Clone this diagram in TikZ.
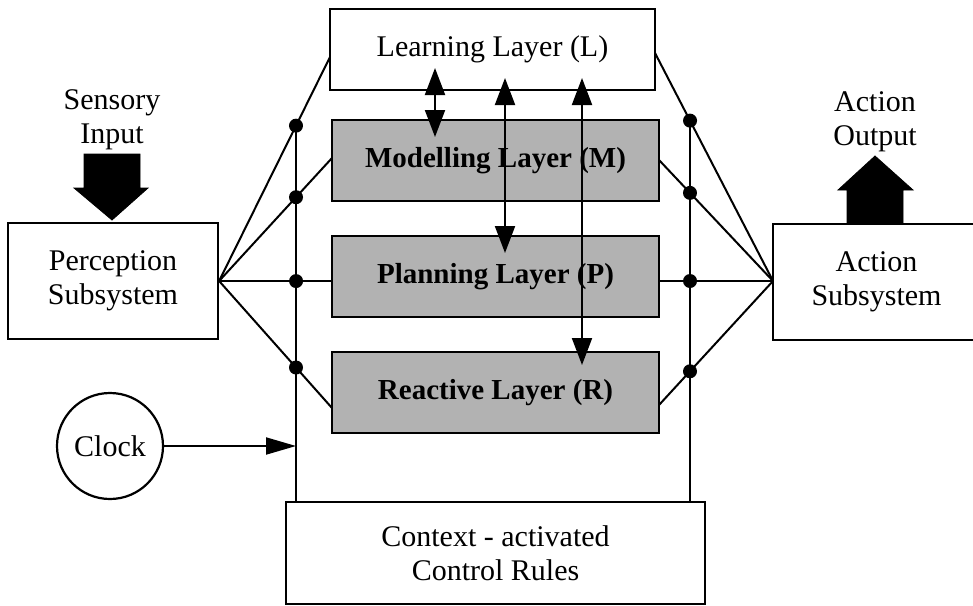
\documentclass[tikz,border=0pt]{standalone}
\usepackage{fontspec}
\setmainfont{Liberation Serif}
\usetikzlibrary{arrows.meta}
\begin{document}
\begin{tikzpicture}[x=1pt,y=-1pt,
  every node/.style={font=\fontsize{30}{34}\selectfont, align=center, inner sep=0pt},
  box/.style={draw, line width=2.2pt, fill=white},
  layer/.style={draw, line width=2.4pt, fill=black!30, font=\fontsize{29}{34}\selectfont\bfseries},
  conn/.style={line width=2pt},
  dot/.style={circle, fill=black, minimum size=14pt, inner sep=0pt},
  dbl/.style={line width=2pt, {Triangle[length=27pt,width=20pt]}-{Triangle[length=27pt,width=20pt]}},
  sgl/.style={line width=2pt, -{Triangle[length=30pt,width=17pt]}},
  blockarrow/.style={fill=black, draw=black, line width=0.8pt}
]
\useasboundingbox (0,0) rectangle (973,605);
\clip (0,0) rectangle (973,605);

% boxes
\node[box, minimum width=325pt, minimum height=81pt] (L) at (492.5,49.5) {Learning Layer (L)};
\node[layer, minimum width=327pt, minimum height=81pt] (M) at (495.5,160.5) {Modelling Layer (M)};
\node[layer, minimum width=327pt, minimum height=81pt] (P) at (495.5,276.5) {Planning Layer (P)};
\node[layer, minimum width=327pt, minimum height=81pt] (R) at (495.5,392.5) {Reactive Layer (R)};
\node[box, minimum width=210pt, minimum height=116pt] (perc) at (113,281) {Perception\\Subsystem};
\node[box, minimum width=207pt, minimum height=116pt, text width=207pt] (act) at (876.5,282) {Action\\Subsystem};
\node[box, circle, minimum size=106pt] (clock) at (110,446) {Clock};

% coordinates on box edges
\coordinate (lw) at (330,57);
\coordinate (mw) at (332,158);
\coordinate (rw) at (332,408);
\coordinate (le) at (655,53);
\coordinate (me) at (659,160);
\coordinate (re) at (659,405);
\coordinate (pw) at (332,281);
\coordinate (pe) at (659,281);
\coordinate (ain) at (773,281);

% connectors
\draw[conn] (perc.east) -- (lw);
\draw[conn] (perc.east) -- (mw);
\draw[conn] (perc.east) -- (pw);
\draw[conn] (perc.east) -- (rw);
\draw[conn] (ain) -- (le);
\draw[conn] (ain) -- (me);
\draw[conn] (ain) -- (pe);
\draw[conn] (ain) -- (re);

% dots on left bus
\node[dot] (d1) at (intersection of perc.east--lw and 296,0--296,600) {};
\node[dot] (d2) at (intersection of perc.east--mw and 296,0--296,600) {};
\node[dot] (d3) at (intersection of perc.east--pw and 296,0--296,600) {};
\node[dot] (d4) at (intersection of perc.east--rw and 296,0--296,600) {};
% dots on right bus
\node[dot] (e1) at (intersection of ain--le and 690,0--690,600) {};
\node[dot] (e2) at (intersection of ain--me and 690,0--690,600) {};
\node[dot] (e3) at (intersection of ain--pe and 690,0--690,600) {};
\node[dot] (e4) at (intersection of ain--re and 690,0--690,600) {};

% context box
\node[box, minimum width=419pt, minimum height=102pt] (ctx) at (495.5,553) {Context - activated\\Control Rules};

% buses
\draw[conn] (d1.center) -- (d1.center |- ctx.north);
\draw[conn] (e1.center) -- (e1.center |- ctx.north);

% clock arrow
\coordinate (clk) at (296,446);
\draw[sgl] (clock.east) -- (clk);

% layer arrows
\coordinate (a1t) at (435,68);
\coordinate (a1b) at (435,137);
\coordinate (a2t) at (505,78);
\coordinate (a2b) at (505,253);
\coordinate (a3t) at (582,78);
\coordinate (a3b) at (582,365);
\draw[dbl] (a1t) -- (a1b);
\draw[dbl] (a2t) -- (a2b);
\draw[dbl] (a3t) -- (a3b);

% sensory input
\node (sens) at (112,120) {Sensory\\Input};
\fill[blockarrow] (84,154) -- (140,154) -- (140,188) -- (148,188) -- (112,220) -- (74,188) -- (84,188) -- cycle;
% action output
\node (aout) at (875,122) {Action\\Output};
\fill[blockarrow] (847,224) -- (903,224) -- (903,190) -- (913,190) -- (875,156) -- (838,190) -- (847,190) -- cycle;
\end{tikzpicture}
\end{document}
